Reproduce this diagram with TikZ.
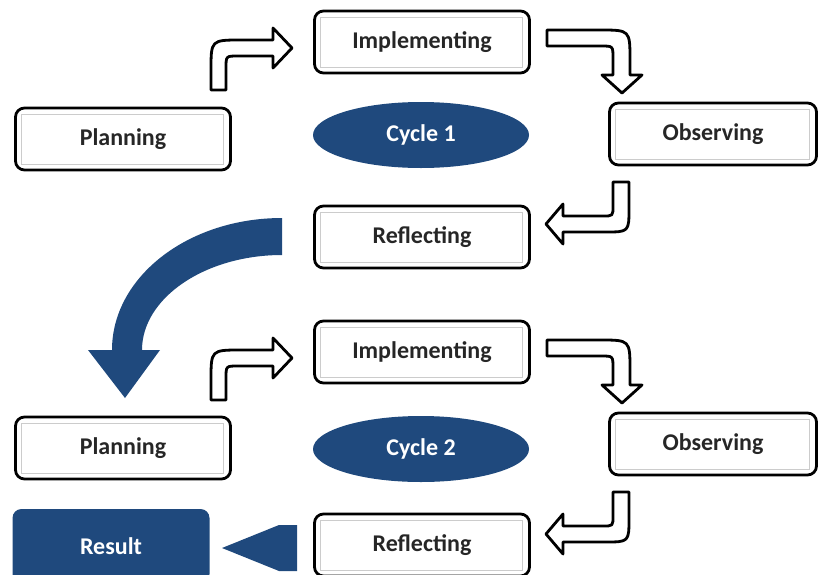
\documentclass[tikz,border=0pt]{standalone}
\usepackage{fontspec}
\setmainfont{Carlito}
\usetikzlibrary{shapes.geometric}
\definecolor{navy}{HTML}{1F497D}
\begin{document}
\begin{tikzpicture}[x=1pt,y=-1pt,
	every node/.style={font=\fontsize{24}{28}\selectfont\bfseries},
	stage/.style={draw,line width=2.8pt,rounded corners=9pt,minimum width=215pt,minimum height=62pt,text=black!85,
		path picture={\draw[black!20,line width=0.8pt,sharp corners] ([shift={(6pt,6pt)}]path picture bounding box.south west) rectangle ([shift={(-7pt,-6pt)}]path picture bounding box.north east);}},
	cyc/.style={ellipse,fill=navy,text=white,minimum width=216pt,minimum height=66pt,inner sep=0pt},
	bent/.style={draw,fill=white,line width=2.8pt,line join=round}]
	\useasboundingbox (0,0) rectangle (820,574);

	% cycle 1
	\node[stage] (plan1) at (123,139) {Planning};
	\node[stage] (impl1) at (422,42) {Implementing};
	\node[stage,minimum width=207pt] (obs1) at (713,134) {Observing};
	\node[stage] (refl1) at (422,237) {Reflecting};
	\node[cyc] (cyc1) at (421,135) {Cycle 1};

	\draw[bent] (211,90) -- (211,70) .. controls (211,40) .. (241,40) -- (273,40) -- (273,28) -- (292,48) -- (273,68) -- (273,56) -- (238,56) .. controls (226,56) .. (226,68) -- (226,90) -- cycle;
	\draw[bent] (547,30) -- (600,30) .. controls (630,30) .. (630,60) -- (630,75) -- (642,75) -- (622,93) -- (602,75) -- (613,75) -- (613,58) .. controls (613,46) .. (601,46) -- (547,46) -- cycle;
	\draw[bent] (613,182) -- (629,182) -- (629,208) .. controls (629,232) .. (605,232) -- (563,232) -- (563,244) -- (546,224) -- (563,204) -- (563,216) -- (603,216) .. controls (613,216) .. (613,206) -- cycle;

	% into cycle 2
	\fill[navy] (282,218) -- (282,255) .. controls (205,255) and (142,298) .. (142,350) -- (160,350) -- (125,398) -- (88,350) -- (112,350) .. controls (112,277) and (188,218) .. (282,218) -- cycle;

	% cycle 2
	\node[stage] (plan2) at (123,448) {Planning};
	\node[stage] (impl2) at (422,352) {Implementing};
	\node[stage,minimum width=207pt] (obs2) at (713,444) {Observing};
	\node[stage] (refl2) at (422,545) {Reflecting};
	\node[cyc] (cyc2) at (421,449) {Cycle 2};

	\draw[bent] (211,400) -- (211,380) .. controls (211,350) .. (241,350) -- (273,350) -- (273,338) -- (292,358) -- (273,378) -- (273,366) -- (238,366) .. controls (226,366) .. (226,378) -- (226,400) -- cycle;
	\draw[bent] (547,340) -- (600,340) .. controls (630,340) .. (630,370) -- (630,385) -- (642,385) -- (622,403) -- (602,385) -- (613,385) -- (613,368) .. controls (613,356) .. (601,356) -- (547,356) -- cycle;
	\draw[bent] (613,492) -- (629,492) -- (629,518) .. controls (629,542) .. (605,542) -- (563,542) -- (563,554) -- (546,534) -- (563,514) -- (563,526) -- (603,526) .. controls (613,526) .. (613,516) -- cycle;

	% result
	\node[fill=navy,text=white,rounded corners=9pt,minimum width=197pt,minimum height=74pt] (res) at (111,546) {Result};
	\fill[navy] (222,548) -- (279,525) -- (297,525) -- (297,571) -- (279,571) -- cycle;
\end{tikzpicture}
\end{document}
